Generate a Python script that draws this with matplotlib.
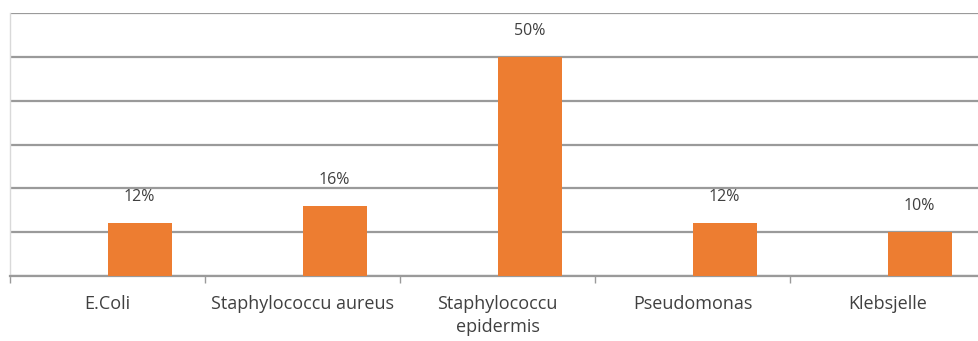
import matplotlib.pyplot as plt
import numpy as np

# isolation frequency per organism (%)
organisms = ['E.Coli', 'Staphylococcu aureus', 'Staphylococcu\nepidermis',
             'Pseudomonas', 'Klebsjelle']
percent = [12, 16, 50, 12, 10]

plt.rcParams['font.family'] = ['Open Sans', 'DejaVu Sans']
text_color = '#404040'
grid_color = '#9a9a9a'

fig = plt.figure(figsize=(9.79, 3.41), dpi=100)
ax = fig.add_axes([10 / 979, 65 / 341, 975 / 979, 263 / 341])

x = np.arange(len(organisms))
bars = ax.bar(x, percent, width=0.33, align='edge', color='#ED7D31', zorder=3)

for rect, val in zip(bars, percent):
    ax.annotate(f'{val}%', (rect.get_x() + rect.get_width() / 2, rect.get_height()),
                xytext=(0, 13), textcoords='offset points', ha='center', va='bottom',
                fontsize=11.5, color=text_color)

ax.set_xlim(-0.5, len(organisms) - 0.5)
ax.set_ylim(0, 60)
ax.set_yticks(np.arange(0, 61, 10))
ax.yaxis.grid(True, color=grid_color, linewidth=1.6, zorder=0)
ax.tick_params(axis='y', length=0, labelleft=False)

ax.set_xticks(x)
ax.set_xticklabels(organisms, fontsize=13, color=text_color, linespacing=1.3)
ax.set_xticks(np.arange(-0.5, len(organisms)), minor=True)
ax.tick_params(axis='x', which='major', length=0, pad=14)
ax.tick_params(axis='x', which='minor', length=5, width=1, color=grid_color)

for side in ['top', 'right']:
    ax.spines[side].set_visible(False)
ax.spines['bottom'].set_color(grid_color)
ax.spines['bottom'].set_linewidth(1.6)
ax.spines['left'].set_color('#d9d9d9')
ax.spines['left'].set_linewidth(1)

plt.savefig('out.png', dpi=100)
